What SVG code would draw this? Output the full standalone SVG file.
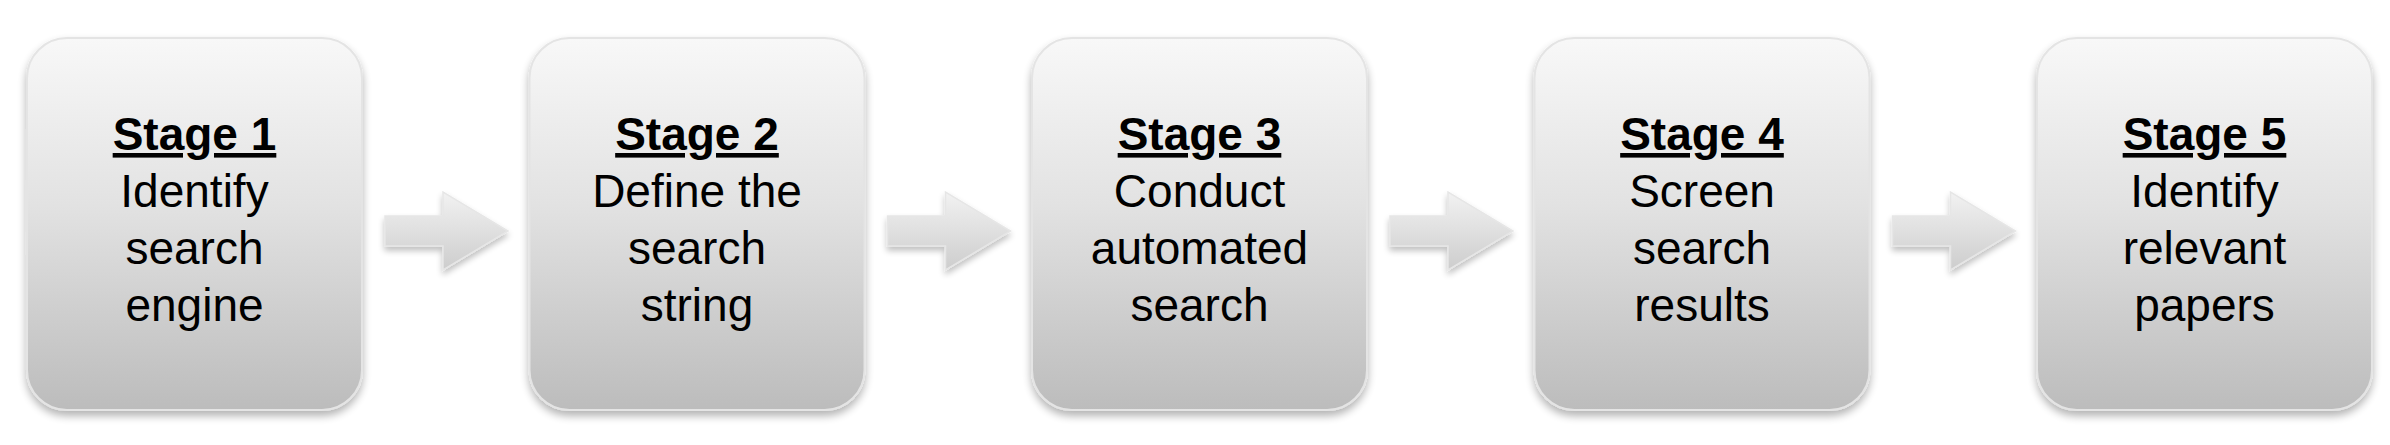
<svg xmlns="http://www.w3.org/2000/svg" width="2390" height="445" viewBox="0 0 2390 445">
<defs>
<linearGradient id="boxg" x1="0" y1="0" x2="0" y2="1">
<stop offset="0" stop-color="#f8f8f8"/>
<stop offset="0.45" stop-color="#e2e2e2"/>
<stop offset="1" stop-color="#bcbcbc"/>
</linearGradient>
<linearGradient id="arrg" x1="0" y1="0" x2="0" y2="1">
<stop offset="0" stop-color="#f2f2f2"/>
<stop offset="1" stop-color="#cdcdcd"/>
</linearGradient>
<filter id="sh" x="-10%" y="-10%" width="120%" height="125%">
<feGaussianBlur in="SourceAlpha" stdDeviation="4"/>
<feOffset dx="0" dy="5" result="b"/>
<feComponentTransfer><feFuncA type="linear" slope="0.3"/></feComponentTransfer>
<feMerge><feMergeNode/><feMergeNode in="SourceGraphic"/></feMerge>
</filter>
<filter id="ash" x="-20%" y="-20%" width="140%" height="150%">
<feGaussianBlur in="SourceAlpha" stdDeviation="3"/>
<feOffset dx="0" dy="4" result="b"/>
<feComponentTransfer><feFuncA type="linear" slope="0.25"/></feComponentTransfer>
<feMerge><feMergeNode/><feMergeNode in="SourceGraphic"/></feMerge>
</filter>
<path id="arrow" d="M0,-15 H58 V-39 L123,0 L58,39 V15 H0 Z"/>
</defs>
<style>
.box{fill:url(#boxg);stroke:#e4e4e4;stroke-width:2;filter:url(#sh)}
.t{font-family:"Liberation Sans",Arial,sans-serif;font-size:46px;fill:#000;text-anchor:middle}
.h{font-weight:bold;text-decoration:underline}
.arr{fill:url(#arrg);stroke:#e6e6e6;stroke-width:1.5;filter:url(#ash)}
</style>
<rect width="2390" height="445" fill="#fff"/>
<g id="connectors">
<use href="#arrow" class="arr" x="385" y="231"/>
<use href="#arrow" class="arr" x="887.5" y="231"/>
<use href="#arrow" class="arr" x="1390" y="231"/>
<use href="#arrow" class="arr" x="1892.5" y="231"/>
</g>
<g id="stage1">
<rect class="box" x="27" y="38" width="335" height="372" rx="40"/>
<text class="t h" x="194.5" y="150">Stage 1</text>
<text class="t" x="194.5" y="207">Identify</text>
<text class="t" x="194.5" y="264">search</text>
<text class="t" x="194.5" y="321">engine</text>
</g>
<g id="stage2">
<rect class="box" x="529.5" y="38" width="335" height="372" rx="40"/>
<text class="t h" x="697" y="150">Stage 2</text>
<text class="t" x="697" y="207">Define the</text>
<text class="t" x="697" y="264">search</text>
<text class="t" x="697" y="321">string</text>
</g>
<g id="stage3">
<rect class="box" x="1032" y="38" width="335" height="372" rx="40"/>
<text class="t h" x="1199.5" y="150">Stage 3</text>
<text class="t" x="1199.5" y="207">Conduct</text>
<text class="t" x="1199.5" y="264">automated</text>
<text class="t" x="1199.5" y="321">search</text>
</g>
<g id="stage4">
<rect class="box" x="1534.5" y="38" width="335" height="372" rx="40"/>
<text class="t h" x="1702" y="150">Stage 4</text>
<text class="t" x="1702" y="207">Screen</text>
<text class="t" x="1702" y="264">search</text>
<text class="t" x="1702" y="321">results</text>
</g>
<g id="stage5">
<rect class="box" x="2037" y="38" width="335" height="372" rx="40"/>
<text class="t h" x="2204.5" y="150">Stage 5</text>
<text class="t" x="2204.5" y="207">Identify</text>
<text class="t" x="2204.5" y="264">relevant</text>
<text class="t" x="2204.5" y="321">papers</text>
</g>
</svg>
